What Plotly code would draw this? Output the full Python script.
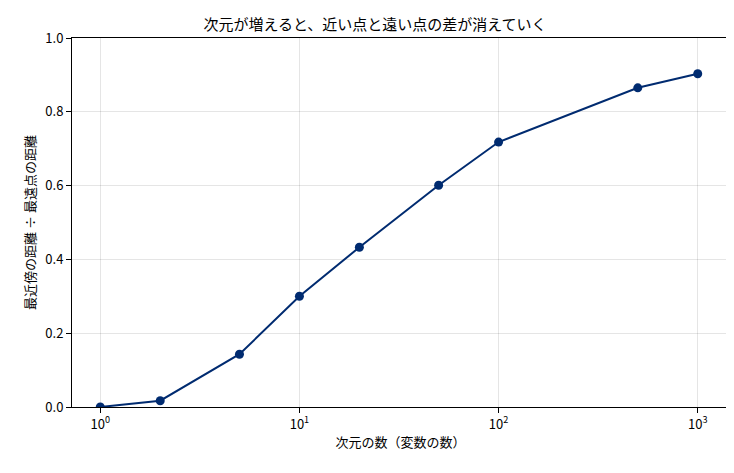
import plotly.graph_objects as go

dims = [1, 2, 5, 10, 20, 50, 100, 500, 1000]
ratio = [0.0, 0.017, 0.143, 0.300, 0.433, 0.601, 0.718, 0.865, 0.903]
xtick_vals = [1, 10, 100, 1000]
xtick_text = ["10<sup>0</sup>", "10<sup>1</sup>", "10<sup>2</sup>", "10<sup>3</sup>"]

font = "Noto Sans CJK JP"
navy = "#002b70"

fig = go.Figure(go.Scatter(
    x=dims, y=ratio, mode="lines+markers",
    line=dict(color=navy, width=2),
    marker=dict(color=navy, size=9),
))

axis_common = dict(
    showline=True, linecolor="black", linewidth=1, mirror=True,
    gridcolor="rgba(0,0,0,0.1)", ticks="outside", tickcolor="black",
    zeroline=False, tickfont=dict(size=13, color="black"),
)

fig.update_layout(
    width=734, height=473,
    margin=dict(l=64, r=13, t=30, b=74),
    plot_bgcolor="white", paper_bgcolor="white",
    font=dict(family=font, color="black"),
    showlegend=False,
    title=dict(text="次元が増えると、近い点と遠い点の差が消えていく",
               x=0.5, xanchor="center", y=0.975, font=dict(size=15)),
    xaxis=dict(type="log", range=[-0.142, 3.157], tickvals=xtick_vals,
               ticktext=xtick_text,
               title=dict(text="次元の数（変数の数）", font=dict(size=13), standoff=6),
               **axis_common),
    yaxis=dict(range=[0, 1], dtick=0.2, tickformat=".1f",
               title=dict(text="最近傍の距離 ÷ 最遠点の距離", font=dict(size=13), standoff=6),
               **axis_common),
)

fig.write_html("out.html")
